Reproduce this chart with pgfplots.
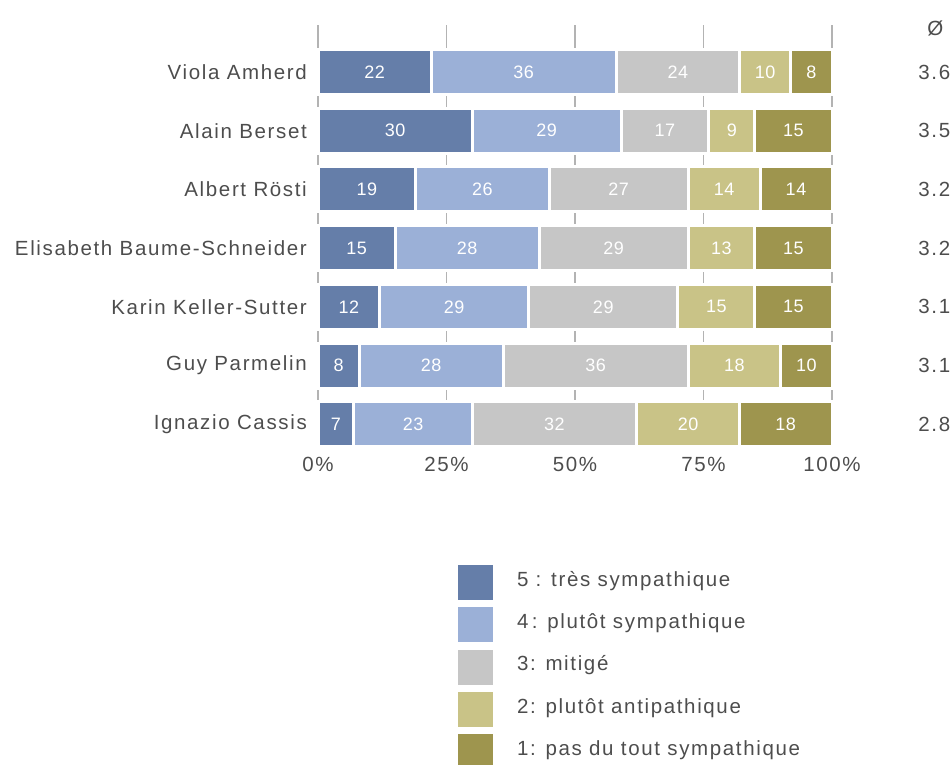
\documentclass[border=0pt]{standalone}
\usepackage{pgfplots}
\pgfplotsset{compat=1.18}
\usepackage{pgfplotstable}
\usepackage{fontspec}
\setmainfont{Liberation Sans}[LetterSpace=8]

\definecolor{c5}{HTML}{657EA9}
\definecolor{c4}{HTML}{9BB0D7}
\definecolor{c3}{HTML}{C6C6C6}
\definecolor{c2}{HTML}{C9C387}
\definecolor{c1}{HTML}{9E954E}
\definecolor{textgray}{HTML}{4D4D4D}
\definecolor{gridgray}{HTML}{B3B3B3}

\newcommand\labelfont{\fontsize{20.5pt}{24pt}\selectfont}
\newcommand\valuefont{\fontsize{18pt}{21pt}\selectfont\addfontfeature{LetterSpace=3}}

% shares per answer (in %) and mean rating
\pgfplotstableread{
i v5 v4 v3 v2 v1 avg
0 22 36 24 10 8  3.6
1 30 29 17 9  15 3.5
2 19 26 27 14 14 3.2
3 15 28 29 13 15 3.2
4 12 29 29 15 15 3.1
5 8  28 36 18 10 3.1
6 7  23 32 20 18 2.8
}\ratings

\begin{document}
\begin{tikzpicture}
\path[use as bounding box] (0,0) rectangle (952pt,764pt);
\begin{axis}[
  at={(318pt,319pt)}, anchor=south west,
  scale only axis, width=514pt, height=420pt,
  xbar stacked, bar width=45pt,
  xmin=0, xmax=100, ymin=-0.80, ymax=6.354, y dir=reverse,
  xtick={0,25,50,75,100},
  xticklabels={0\%,25\%,50\%,75\%,100\%},
  ytick={0,...,6},
  yticklabels={Viola Amherd, Alain Berset, Albert Rösti, Elisabeth Baume-Schneider, Karin Keller-Sutter, Guy Parmelin, Ignazio Cassis},
  major tick length=0pt,
  axis line style={draw=none},
  xmajorgrids, grid style={gridgray, line width=1.2pt},
  tick label style={font=\labelfont, text=textgray},
  yticklabel style={anchor=east, inner sep=0pt, xshift=-11pt},
  xticklabel style={anchor=north, inner sep=0pt, yshift=-12pt},
  clip=false,
  legend style={at={(0.2724,-0.2857)}, anchor=north west, draw=none, fill=none,
    inner sep=0pt, outer sep=0pt, row sep=7.3pt, column sep=24pt,
    font=\labelfont, text=textgray, nodes={inner sep=0pt}},
  legend cell align=left,
  legend image code/.code={\fill[#1, draw=none] (0pt,-20.5pt) rectangle (35pt,14.5pt);},
  seg/.style={fill=#1, draw=white, line width=3pt},
  point meta=explicit symbolic,
  nodes near coords={\pgfplotspointmeta},
  every node near coord/.append style={anchor=center, text=white, font=\valuefont},
]
\addplot[seg=c5] table[x=v5, y=i, meta=v5] {\ratings};
\addplot[seg=c4] table[x=v4, y=i, meta=v4] {\ratings};
\addplot[seg=c3] table[x=v3, y=i, meta=v3] {\ratings};
\addplot[seg=c2] table[x=v2, y=i, meta=v2] {\ratings};
\addplot[seg=c1] table[x=v1, y=i, meta=v1] {\ratings};
\legend{5 : très sympathique, 4\,: plutôt sympathique, 3: mitigé, 2: plutôt antipathique, 1: pas du tout sympathique}

% mean rating column
\node[font=\labelfont, text=textgray] at (axis cs:120.1,-0.74) {Ø};
\node[font=\labelfont, text=textgray] at (axis cs:119.9,0) {3.6};
\node[font=\labelfont, text=textgray] at (axis cs:119.9,1) {3.5};
\node[font=\labelfont, text=textgray] at (axis cs:119.9,2) {3.2};
\node[font=\labelfont, text=textgray] at (axis cs:119.9,3) {3.2};
\node[font=\labelfont, text=textgray] at (axis cs:119.9,4) {3.1};
\node[font=\labelfont, text=textgray] at (axis cs:119.9,5) {3.1};
\node[font=\labelfont, text=textgray] at (axis cs:119.9,6) {2.8};
\end{axis}
\end{tikzpicture}
\end{document}
